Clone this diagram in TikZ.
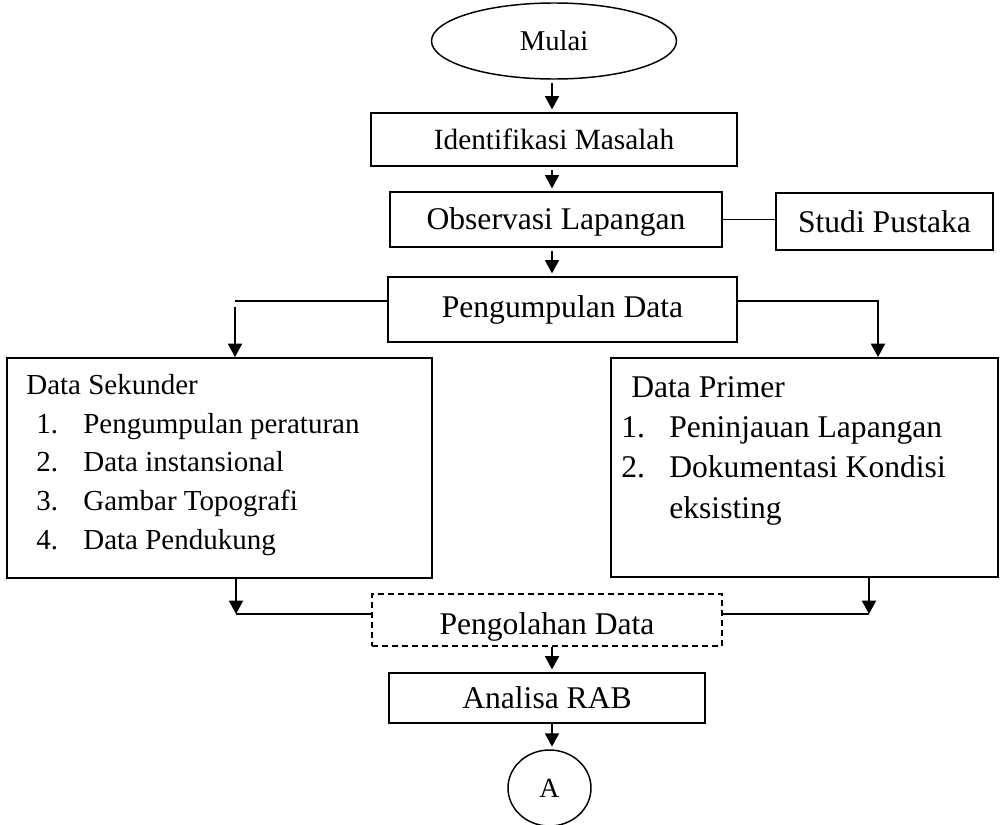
\documentclass[tikz,border=0pt]{standalone}
\usepackage{fontspec}
\setmainfont{Liberation Serif}
\usetikzlibrary{shapes.geometric,arrows.meta}

\begin{document}
\begin{tikzpicture}[x=0.75pt, y=-0.75pt,
	kotak/.style={draw, line width=1.4pt, inner sep=0pt, font=\fontsize{23.7}{28}\selectfont},
	oval/.style={ellipse, draw, line width=1.1pt, inner sep=0pt},
	putus/.style={kotak, dash pattern=on 4.5pt off 3pt},
	panah/.style={-{Triangle[length=10pt,width=10.5pt]}, line width=1.4pt, shorten >=2pt, shorten <=2.5pt},
	garis/.style={line width=1.4pt},
	isi/.style={inner sep=0pt, align=left, anchor=north west}]
\useasboundingbox (0,0) rectangle (1002,824);
\coordinate (spine) at (552,0);
\coordinate (kiri) at (235,301);
\coordinate (kanan) at (878,301);
\coordinate (kiribawah) at (236,614);
\coordinate (kananbawah) at (869,614);

\node[oval, minimum width=183.75pt, minimum height=57pt, font=\fontsize{21.5}{26}\selectfont] (mulai) at (554,41) {Mulai};
\node[kotak, minimum width=274.5pt, minimum height=39.75pt, font=\fontsize{22}{26}\selectfont] (ident) at (554,139.5) {Identifikasi Masalah};
\node[kotak, minimum width=249pt, minimum height=41.25pt, text height=17pt, text depth=2pt] (obs) at (556,219.5) {Observasi Lapangan};
\node[kotak, minimum width=162.75pt, minimum height=42.75pt] (studi) at (884.5,221.5) {Studi Pustaka};
\node[kotak, minimum width=261.75pt, minimum height=48.75pt] (kumpul) at (562.5,309.5) {Pengumpulan Data};
\node[kotak, minimum width=318.75pt, minimum height=165pt] (sekunder) at (219.5,468) {};
\node[kotak, minimum width=290.25pt, minimum height=164.25pt] (primer) at (804.5,467.5) {};
\node[putus, minimum width=262.5pt, minimum height=39pt, text height=21pt, text depth=0pt] (olah) at (547,620) {Pengolahan Data};
\node[kotak, minimum width=237pt, minimum height=37.5pt] (rab) at (547,698) {Analisa RAB};
\node[oval, minimum width=62.25pt, minimum height=57pt, font=\fontsize{20.8}{24}\selectfont] (a) at (549.5,788) {A};

\node[isi, font=\fontsize{21.75}{29}\selectfont] (isisekunder) at ([xshift=15pt, yshift=-12.75pt]sekunder.north west)
	{Data Sekunder\\
	\hspace*{7.5pt}\makebox[35.25pt][l]{1.}Pengumpulan peraturan\\
	\hspace*{7.5pt}\makebox[35.25pt][l]{2.}Data instansional\\
	\hspace*{7.5pt}\makebox[35.25pt][l]{3.}Gambar Topografi\\
	\hspace*{7.5pt}\makebox[35.25pt][l]{4.}Data Pendukung};
\node[isi, font=\fontsize{23.7}{30.2}\selectfont] (isiprimer) at ([xshift=8.25pt, yshift=-14.25pt]primer.north west)
	{\hspace*{7.5pt}Data Primer\\
	\makebox[36pt][l]{1.}Peninjauan Lapangan\\
	\makebox[36pt][l]{2.}Dokumentasi Kondisi\\
	\hspace*{36pt}eksisting};

\draw[panah] (mulai.south -| spine) -- (ident.north -| spine);
\draw[panah] (ident.south -| spine) -- (obs.north -| spine);
\draw[garis] (obs.east) -- (obs.east -| studi.west);
\draw[panah] (obs.south -| spine) -- (kumpul.north -| spine);
\draw[garis] (kiri -| kumpul.west) -- (kiri);
\draw[panah, shorten <=0pt, shorten >=0pt] ([yshift=-4.5pt]kiri) -- (kiri |- sekunder.north);
\draw[panah, shorten <=0pt, shorten >=0pt] (kanan -| kumpul.east) -- (kanan) -- (kanan |- primer.north);
\draw[panah, shorten <=0pt, shorten >=0pt] (sekunder.south -| kiribawah) -- (kiribawah);
\draw[garis] (kiribawah) -- (kiribawah -| olah.west);
\draw[panah, shorten <=0pt, shorten >=0pt] (primer.south -| kananbawah) -- (kananbawah);
\draw[garis] (kananbawah) -- (kananbawah -| olah.east);
\draw[panah, shorten <=0pt] (olah.south -| spine) -- (rab.north -| spine);
\draw[panah, shorten <=0pt] (rab.south -| spine) -- (a.north -| spine);
\end{tikzpicture}
\end{document}
